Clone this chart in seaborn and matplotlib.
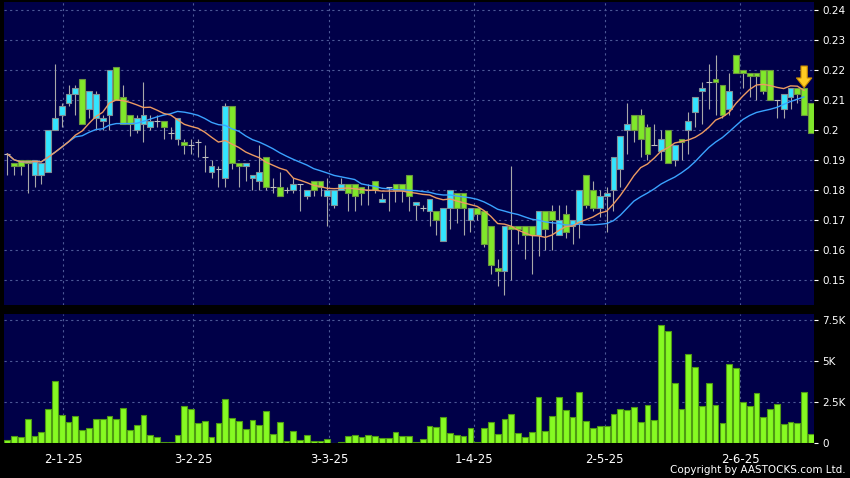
import pandas as pd
import matplotlib
matplotlib.use('Agg')
import matplotlib.pyplot as plt
import seaborn as sns

# daily candles (left to right)
opens = [0.192, 0.189, 0.190, 0.190, 0.185, 0.185, 0.186, 0.200, 0.205, 0.209,
         0.212, 0.217, 0.207, 0.204, 0.203, 0.205, 0.221, 0.211, 0.205, 0.200,
         0.202, 0.201, 0.203, 0.203, 0.199, 0.197, 0.196, 0.195, 0.196, 0.191,
         0.186, 0.187, 0.184, 0.208, 0.189, 0.188, 0.184, 0.183, 0.191, 0.181,
         0.181, 0.180, 0.180, 0.182, 0.178, 0.183, 0.183, 0.178, 0.175, 0.180,
         0.182, 0.182, 0.181, 0.180, 0.183, 0.176, 0.181, 0.182, 0.182, 0.185,
         0.175, 0.174, 0.173, 0.173, 0.163, 0.174, 0.179, 0.179, 0.170, 0.174,
         0.173, 0.168, 0.154, 0.153, 0.168, 0.168, 0.168, 0.168, 0.165, 0.173,
         0.173, 0.165, 0.172, 0.168, 0.169, 0.185, 0.180, 0.174, 0.178, 0.180,
         0.187, 0.200, 0.205, 0.205, 0.201, 0.195, 0.193, 0.200, 0.190, 0.197,
         0.200, 0.206, 0.213, 0.216, 0.217, 0.215, 0.207, 0.225, 0.220, 0.219,
         0.219, 0.220, 0.220, 0.210, 0.207, 0.211, 0.214, 0.214, 0.209]
highs = [0.192, 0.189, 0.190, 0.190, 0.190, 0.189, 0.200, 0.222, 0.209, 0.215,
         0.215, 0.217, 0.213, 0.213, 0.205, 0.220, 0.221, 0.215, 0.205, 0.205,
         0.216, 0.205, 0.205, 0.203, 0.201, 0.204, 0.197, 0.197, 0.197, 0.195,
         0.190, 0.188, 0.209, 0.208, 0.189, 0.189, 0.185, 0.195, 0.191, 0.184,
         0.186, 0.181, 0.184, 0.182, 0.180, 0.183, 0.183, 0.184, 0.180, 0.184,
         0.182, 0.182, 0.181, 0.182, 0.183, 0.179, 0.181, 0.182, 0.182, 0.185,
         0.176, 0.175, 0.177, 0.173, 0.174, 0.180, 0.179, 0.179, 0.174, 0.174,
         0.173, 0.168, 0.157, 0.168, 0.188, 0.168, 0.168, 0.168, 0.173, 0.173,
         0.175, 0.175, 0.175, 0.170, 0.180, 0.185, 0.183, 0.180, 0.181, 0.191,
         0.198, 0.209, 0.205, 0.207, 0.202, 0.202, 0.200, 0.200, 0.195, 0.197,
         0.206, 0.211, 0.216, 0.222, 0.225, 0.215, 0.219, 0.225, 0.220, 0.219,
         0.219, 0.220, 0.220, 0.210, 0.212, 0.214, 0.214, 0.214, 0.209]
lows = [0.185, 0.185, 0.185, 0.179, 0.181, 0.182, 0.186, 0.200, 0.201, 0.208,
        0.205, 0.202, 0.204, 0.200, 0.200, 0.200, 0.210, 0.202, 0.198, 0.199,
        0.196, 0.200, 0.201, 0.197, 0.197, 0.195, 0.192, 0.192, 0.191, 0.186,
        0.184, 0.181, 0.181, 0.187, 0.181, 0.183, 0.180, 0.180, 0.180, 0.179,
        0.178, 0.179, 0.179, 0.173, 0.177, 0.178, 0.178, 0.168, 0.174, 0.180,
        0.173, 0.173, 0.175, 0.175, 0.179, 0.176, 0.173, 0.176, 0.176, 0.173,
        0.170, 0.173, 0.168, 0.165, 0.163, 0.167, 0.169, 0.165, 0.166, 0.170,
        0.161, 0.152, 0.148, 0.145, 0.150, 0.162, 0.157, 0.152, 0.158, 0.160,
        0.160, 0.165, 0.164, 0.162, 0.164, 0.174, 0.173, 0.171, 0.166, 0.173,
        0.181, 0.192, 0.196, 0.191, 0.190, 0.195, 0.190, 0.189, 0.188, 0.190,
        0.192, 0.201, 0.202, 0.207, 0.205, 0.204, 0.205, 0.219, 0.214, 0.211,
        0.210, 0.212, 0.210, 0.204, 0.204, 0.207, 0.209, 0.205, 0.199]
closes = [0.192, 0.188, 0.188, 0.189, 0.190, 0.189, 0.200, 0.204, 0.208, 0.212,
          0.214, 0.202, 0.213, 0.212, 0.204, 0.220, 0.210, 0.202, 0.202, 0.204,
          0.205, 0.203, 0.203, 0.201, 0.199, 0.204, 0.195, 0.195, 0.196, 0.191,
          0.188, 0.187, 0.208, 0.189, 0.188, 0.189, 0.185, 0.186, 0.181, 0.181,
          0.178, 0.180, 0.182, 0.182, 0.180, 0.180, 0.181, 0.180, 0.180, 0.182,
          0.179, 0.178, 0.179, 0.180, 0.180, 0.177, 0.181, 0.180, 0.180, 0.178,
          0.176, 0.174, 0.177, 0.170, 0.174, 0.180, 0.174, 0.174, 0.174, 0.172,
          0.162, 0.155, 0.153, 0.168, 0.167, 0.167, 0.165, 0.165, 0.173, 0.167,
          0.170, 0.170, 0.166, 0.170, 0.180, 0.175, 0.174, 0.178, 0.179, 0.191,
          0.198, 0.202, 0.200, 0.197, 0.192, 0.195, 0.197, 0.189, 0.195, 0.196,
          0.203, 0.211, 0.214, 0.216, 0.216, 0.205, 0.213, 0.219, 0.219, 0.218,
          0.218, 0.213, 0.210, 0.210, 0.212, 0.214, 0.212, 0.205, 0.199]
volumes = [160, 450, 390, 1460, 430, 650, 2090, 3800, 1730, 1300,
           1620, 770, 930, 1480, 1480, 1640, 1480, 2130, 770, 1080,
           1700, 510, 390, 80, 80, 490, 2250, 2070, 1240, 1340,
           390, 1240, 2680, 1500, 1360, 870, 1400, 1120, 1950, 530,
           1300, 140, 750, 200, 510, 140, 140, 240, 20, 60,
           450, 510, 390, 510, 430, 330, 330, 690, 450, 450,
           80, 250, 1050, 980, 1600, 610, 510, 430, 930, 60,
           910, 1300, 550, 1480, 1770, 630, 350, 650, 2800, 730,
           1660, 2780, 2030, 1580, 3090, 1340, 890, 1060, 1020, 1770,
           2090, 1990, 2190, 1260, 2290, 1400, 7190, 6820, 3670, 2090,
           5440, 4630, 2250, 3670, 2330, 1220, 4790, 4590, 2480, 2270,
           3040, 1580, 2090, 2350, 1180, 1300, 1200, 3130, 530]

date_ticks = [8.2, 27.3, 47.3, 68.5, 87.7, 107.6]
date_labels = ['2-1-25', '3-2-25', '3-3-25', '1-4-25', '2-5-25', '2-6-25']
price_ticks = [0.15, 0.16, 0.17, 0.18, 0.19, 0.20, 0.21, 0.22, 0.23, 0.24]
vol_ticks = [0, 2500, 5000, 7500]
vol_labels = ['0', '2.5K', '5K', '7.5K']
arrow_bar = 117

bg = '#000048'
up_col, down_col = '#33e5ff', '#80e82a'
grid_kw = dict(color='#4c5896', linestyle=(0, (2, 3)), linewidth=0.8)

df = pd.DataFrame({'open': opens, 'high': highs, 'low': lows,
                   'close': closes, 'volume': volumes})
df['idx'] = range(len(df))
df['ma10'] = df['close'].rolling(10, min_periods=1).mean()
df['ma20'] = df['close'].rolling(20, min_periods=1).mean()

sns.set_style('dark')
plt.rcParams['font.family'] = ['DejaVu Sans']

fig = plt.figure(figsize=(8.5, 4.78), dpi=100, facecolor='black')
ax1 = fig.add_axes([4 / 850, 1 - 305 / 478, 810 / 850, 303 / 478])
ax2 = fig.add_axes([4 / 850, 1 - 443 / 478, 810 / 850, 129 / 478])

'''price panel'''
ax1.vlines(df['idx'], df['low'], df['high'], color='#a8a8a8', linewidth=0.8, zorder=2)
body_col, edge_col = [], []
for o, c in zip(df['open'], df['close']):
    if c > o:
        body_col.append(up_col); edge_col.append('#7f8f96')
    elif c < o:
        body_col.append(down_col); edge_col.append('#6a9440')
    else:
        body_col.append('#c0c0c0'); edge_col.append('#c0c0c0')
ax1.bar(df['idx'], (df['close'] - df['open']).abs(), bottom=df[['open', 'close']].min(axis=1),
        width=0.85, color=body_col, edgecolor=edge_col, linewidth=0.8, zorder=3)

ma = df.iloc[:-1]
sns.lineplot(x=ma['idx'], y=ma['ma20'], color='#3aa2ff', linewidth=1.0, ax=ax1, zorder=4)
sns.lineplot(x=ma['idx'], y=ma['ma10'], color='#ec9a62', linewidth=1.0, ax=ax1, zorder=4)

tip = df['high'][arrow_bar]
ax1.annotate('', xy=(arrow_bar, tip), xytext=(arrow_bar, tip + 0.0072),
             arrowprops=dict(facecolor='#ffcc22', edgecolor='#c88a00', linewidth=0.8,
                             width=4.5, headwidth=11, headlength=7, shrink=0), zorder=6)

ax1.set_ylim(0.1417, 0.2425)
ax1.set_yticks(price_ticks)
ax1.set_yticklabels(['%g' % p for p in price_ticks])

'''volume panel'''
sns.barplot(data=df, x='idx', y='volume', native_scale=True, width=0.85, color='#86fa22',
            saturation=1, edgecolor='#4f9a14', linewidth=0.8, errorbar=None, ax=ax2, zorder=3)
ax2.set_ylim(0, 7866)
ax2.set_yticks(vol_ticks)
ax2.set_yticklabels(vol_labels)

for ax in (ax1, ax2):
    ax.set_facecolor(bg)
    ax.set_xlim(-0.48, 118.45)
    ax.set_xticks(date_ticks)
    ax.set_xlabel('')
    ax.set_ylabel('')
    ax.grid(True, **grid_kw)
    ax.set_axisbelow(True)
    for s in ax.spines.values():
        s.set_visible(False)
    ax.yaxis.tick_right()
    ax.tick_params(axis='y', colors='white', length=3, width=0.8, pad=3, labelsize=7.5)

ax1.tick_params(axis='x', length=0, labelbottom=False)
ax2.set_xticklabels(date_labels)
ax2.tick_params(axis='x', colors='white', length=3, width=0.8, pad=4, labelsize=8.5)

fig.text(846 / 850, 1 - 470 / 478, 'Copyright by AASTOCKS.com Ltd.', color='white',
         fontsize=7.5, ha='right', va='center')

fig.savefig('out.png', dpi=100, facecolor='black')
